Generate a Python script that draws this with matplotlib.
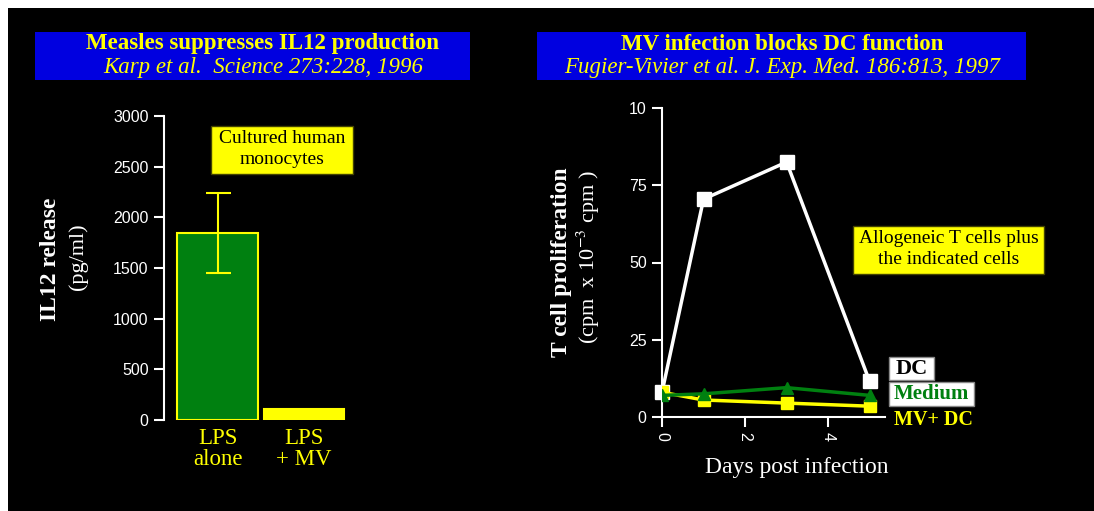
import matplotlib.pyplot as plt
from matplotlib.patches import Rectangle

W, H = 1094, 511

# --- data: IL12 release (left) ---
bar_labels = ['LPS\nalone', 'LPS\n+ MV']
il12_values = [1845, 110]
il12_err = [395, 0]
il12_ticks = [0, 500, 1000, 1500, 2000, 2500, 3000]

# --- data: T cell proliferation (right) ---
days = [0, 1, 3, 5]
dc_values = [8, 70.5, 82.5, 11.5]
medium_values = [7, 7.5, 9.5, 7]
mvdc_values = [8, 5.5, 4.5, 3.5]
prolif_ticks = [0, 25, 50, 75, 100]
prolif_ticklabels = ['0', '25', '50', '75', '10']
day_ticks = [0, 2, 4]

YEL = '#ffff00'
GRN = '#008010'
BLUE = '#0000e0'
SERIF = 'Liberation Serif'
SANS = 'Liberation Sans'

plt.rcParams['mathtext.fontset'] = 'stix'


def fx(x):
    return x / W


def fy(y):
    return 1 - y / H


def ax_rect(x0, y0, x1, y1):
    # pixel box (top-left origin) -> axes rect
    return [fx(x0), fy(y1), (x1 - x0) / W, (y1 - y0) / H]


def box(x0, y0, x1, y1, fc, ec='none', z=1):
    fig.patches.append(Rectangle((fx(x0), fy(y1)), (x1 - x0) / W, (y1 - y0) / H,
                                 transform=fig.transFigure, facecolor=fc,
                                 edgecolor=ec, linewidth=1, zorder=z))


fig = plt.figure(figsize=(W / 100, H / 100), dpi=100, facecolor='white')
box(8, 8, W, H, 'black', z=-5)

# title boxes
for (x0, x1, t1, t2, cx) in [(35, 470, 'Measles suppresses IL12 production',
                               'Karp et al.  Science 273:228, 1996', 263),
                              (537, 1026, 'MV infection blocks DC function',
                               'Fugier-Vivier et al. J. Exp. Med. 186:813, 1997', 782)]:
    box(x0, 32, x1, 80, BLUE)
    fig.text(fx(cx), fy(44), t1, color=YEL, fontsize=16.5, fontweight='bold',
             family=SERIF, ha='center', va='center', zorder=2)
    fig.text(fx(cx), fy(67), t2, color=YEL, fontsize=16.5, style='italic',
             family=SERIF, ha='center', va='center', zorder=2)

# ---------- left panel: bars ----------
ax1 = fig.add_axes(ax_rect(164, 116, 350, 420))
ax1.set_facecolor('none')
xs = [0, 1]
ax1.bar(xs, il12_values, width=0.93, color=[GRN, YEL], edgecolor=YEL, linewidth=1.5)
ax1.errorbar(xs[0], il12_values[0], yerr=il12_err[0], fmt='none', ecolor=YEL,
             elinewidth=1.5, capsize=9, capthick=1.5)
ax1.set_xlim(-0.62, 1.53)
ax1.set_ylim(0, 3000)
ax1.set_yticks(il12_ticks)
ax1.set_xticks(xs)
ax1.set_xticklabels(bar_labels, color=YEL, fontsize=16.5, family=SERIF, linespacing=0.95)
ax1.tick_params(axis='x', length=0, pad=6)
ax1.tick_params(axis='y', colors='white', labelsize=11.5, length=7, width=1.5, pad=4)
for lab in ax1.get_yticklabels():
    lab.set_family(SANS)
for s in ['top', 'right', 'bottom']:
    ax1.spines[s].set_visible(False)
ax1.spines['left'].set_color('white')
ax1.spines['left'].set_linewidth(1.5)

box(211, 126, 353, 174, YEL, ec='#444400', z=3)
fig.text(fx(282), fy(149), 'Cultured human\nmonocytes', ha='center', va='center',
         fontsize=14, family=SERIF, color='black', linespacing=1.3, zorder=4)

fig.text(fx(50), fy(259), 'IL12 release', rotation=90, color='white', fontsize=17,
         fontweight='bold', family=SERIF, ha='center', va='center')
fig.text(fx(78), fy(257), '(pg/ml)', rotation=90, color='white', fontsize=16,
         family=SERIF, ha='center', va='center')

# ---------- right panel: lines ----------
ax2 = fig.add_axes(ax_rect(662, 108, 885, 417))
ax2.set_facecolor('none')
ax2.plot(days, dc_values, color='white', lw=2.5, marker='s', ms=10, zorder=2,
         clip_on=False)
ax2.plot(days, mvdc_values, color=YEL, lw=2.5, marker='s', ms=8, zorder=3)
ax2.plot(days, medium_values, color=GRN, lw=2.5, marker='^', ms=9, zorder=4)
ax2.set_xlim(0, 5.37)
ax2.set_ylim(0, 100)
ax2.set_yticks(prolif_ticks)
ax2.set_yticklabels(prolif_ticklabels)
ax2.set_xticks(day_ticks)
ax2.tick_params(axis='both', colors='white', labelsize=11.5, length=7, width=1.5, pad=4)
ax2.tick_params(axis='x', labelrotation=-90)
for lab in ax2.get_yticklabels() + ax2.get_xticklabels():
    lab.set_family(SANS)
for s in ['top', 'right']:
    ax2.spines[s].set_visible(False)
for s in ['left', 'bottom']:
    ax2.spines[s].set_color('white')
    ax2.spines[s].set_linewidth(1.5)

fig.text(fx(797), fy(468), 'Days post infection', color='white', fontsize=17,
         family=SERIF, ha='center', va='center')
fig.text(fx(562), fy(262), 'T cell proliferation', rotation=90, color='white', fontsize=17,
         fontweight='bold', family=SERIF, ha='center', va='center')
fig.text(fx(588), fy(257), '(cpm  x 10$^{-3}$ cpm )', rotation=90, color='white',
         fontsize=16, family=SERIF, ha='center', va='center')

box(853, 226, 1044, 274, YEL, ec='#444400', z=3)
fig.text(fx(948.5), fy(249), 'Allogeneic T cells plus\nthe indicated cells', ha='center',
         va='center', fontsize=14, family=SERIF, color='black', linespacing=1.3, zorder=4)

# series labels
box(889, 357, 934, 380, 'white', ec='#888888', z=3)
fig.text(fx(911.5), fy(368.5), 'DC', color='black', fontsize=16, fontweight='bold',
         family=SERIF, ha='center', va='center', zorder=4)
box(889, 382, 974, 406, 'white', ec='#888888', z=3)
fig.text(fx(931.5), fy(394), 'Medium', color=GRN, fontsize=15, fontweight='bold',
         family=SERIF, ha='center', va='center', zorder=4)
fig.text(fx(934), fy(420), 'MV+ DC', color=YEL, fontsize=14.5, fontweight='bold',
         family=SERIF, ha='center', va='center')

fig.savefig('out.png', dpi=100, facecolor=fig.get_facecolor())
